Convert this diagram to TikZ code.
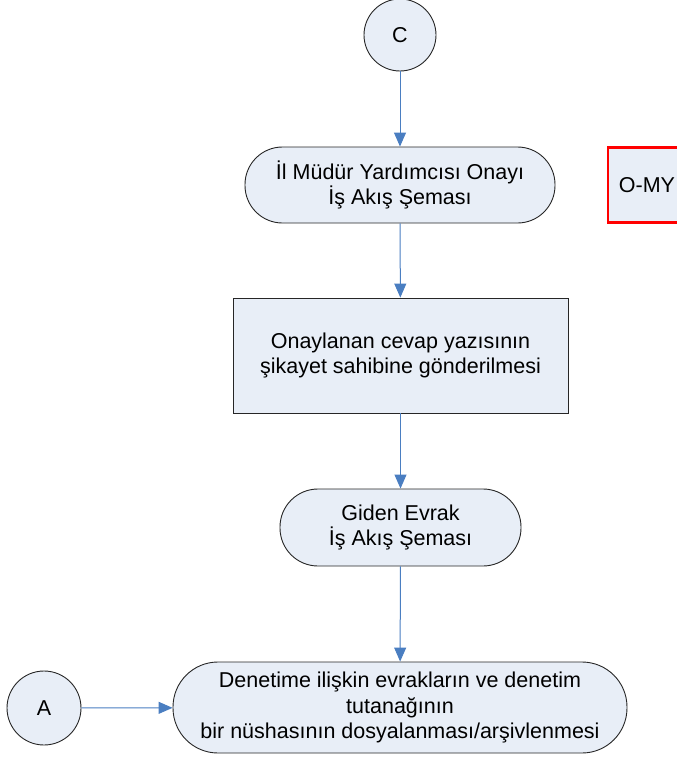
\documentclass[tikz,border=0pt]{standalone}
\usepackage{fontspec}
\setmainfont{Liberation Sans}
\usetikzlibrary{arrows.meta}

\definecolor{boxfill}{RGB}{232,238,247}
\definecolor{flowblue}{RGB}{74,126,193}

\tikzset{
  base/.style={draw=black!85, line width=0.9pt, fill=boxfill, inner sep=0pt,
    align=center, font=\fontsize{21.5}{25.5}\selectfont},
  connector/.style={base, circle},
  process/.style={base, rectangle},
  terminal/.style={base, rectangle},
  flow/.style={draw=flowblue, line width=1pt, -{Triangle[length=14pt,width=12pt]}},
  refbox/.style={base, draw=red, line width=2.6pt}
}

\begin{document}
\begin{tikzpicture}[x=1pt,y=-1pt]
        \clip (0,0) rectangle (677,760);

        \node[connector, minimum size=72pt] (c) at (400,35) {C};
        \node[terminal, minimum width=310pt, minimum height=76pt, rounded corners=37.5pt]
            (onay) at (400,185) {İl Müdür Yardımcısı Onayı\\İş Akış Şeması};
        \node[refbox, minimum width=78pt, minimum height=75pt] (omy) at (647,185) {O-MY};
        \node[process, minimum width=335pt, minimum height=115pt]
            (gonder) at (400.5,355.5) {Onaylanan cevap yazısının\\şikayet sahibine gönderilmesi};
        \node[terminal, minimum width=241pt, minimum height=77pt, rounded corners=38pt]
            (giden) at (400.5,527.5) {Giden Evrak\\İş Akış Şeması};
        \node[terminal, minimum width=454pt, minimum height=91pt, rounded corners=45pt]
            (arsiv) at (400,707.5) {Denetime ilişkin evrakların ve denetim\\tutanağının\\bir nüshasının dosyalanması/arşivlenmesi};
        \node[connector, minimum size=74pt] (a) at (44,708) {A};

        \draw[flow] (c) -- (onay);
        \draw[flow] (onay) -- (gonder);
        \draw[flow] (gonder) -- (giden);
        \draw[flow] (giden) -- (arsiv);
        \draw[flow] (a) -- (arsiv);
\end{tikzpicture}
\end{document}
